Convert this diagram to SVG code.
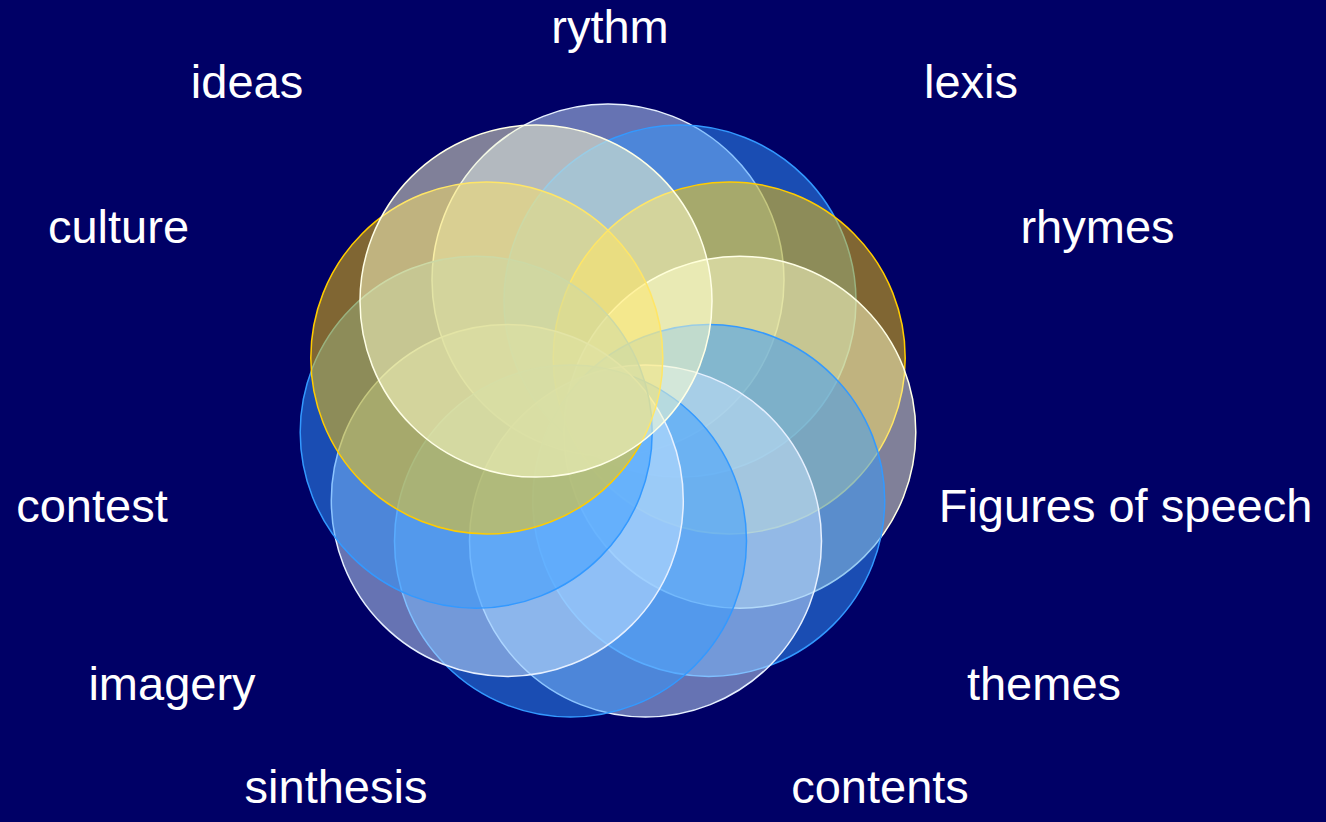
<svg xmlns="http://www.w3.org/2000/svg" width="1326" height="822" viewBox="0 0 1326 822">
<style>
.c{stroke-width:1.5}
.lb{fill:rgba(204,230,255,0.5);stroke:#E6F0FF}
.bl{fill:rgba(51,153,255,0.5);stroke:#3399FF}
.gd{fill:rgba(255,204,0,0.5);stroke:#FFCC00}
.py{fill:rgba(255,255,204,0.5);stroke:#FFFFE6}
text{font-family:"Liberation Sans",Arial,sans-serif;font-size:47px;fill:#FFFFFF;text-anchor:middle}
</style>
<rect width="1326" height="822" fill="#000066"/>
<g id="circles">
<circle id="n0" class="c lb" cx="608" cy="280" r="176"/>
<circle id="n1" class="c bl" cx="680" cy="301.1" r="176"/>
<circle id="n2" class="c gd" cx="729.2" cy="357.9" r="176"/>
<circle id="n3" class="c py" cx="739.8" cy="432.2" r="176"/>
<circle id="n4" class="c bl" cx="708.7" cy="500.4" r="176"/>
<circle id="n5" class="c lb" cx="645.5" cy="541" r="176"/>
<circle id="n6" class="c bl" cx="570.5" cy="541" r="176"/>
<circle id="n7" class="c lb" cx="507.3" cy="500.4" r="176"/>
<circle id="n8" class="c bl" cx="476.2" cy="432.2" r="176"/>
<circle id="n9" class="c gd" cx="486.8" cy="357.9" r="176"/>
<circle id="n10" class="c py" cx="536" cy="301.1" r="176"/>
</g>
<g id="labels">
<text id="t-rythm" x="610" y="43">rythm</text>
<text id="t-ideas" x="247" y="98">ideas</text>
<text id="t-lexis" x="971" y="98">lexis</text>
<text id="t-culture" x="118.5" y="243">culture</text>
<text id="t-rhymes" x="1097.5" y="243">rhymes</text>
<text id="t-contest" x="92" y="522">contest</text>
<text id="t-figures" x="1125.5" y="522">Figures of speech</text>
<text id="t-imagery" x="172" y="700">imagery</text>
<text id="t-themes" x="1044" y="700">themes</text>
<text id="t-sinthesis" x="336" y="803">sinthesis</text>
<text id="t-contents" x="880" y="803">contents</text>
</g>
</svg>
